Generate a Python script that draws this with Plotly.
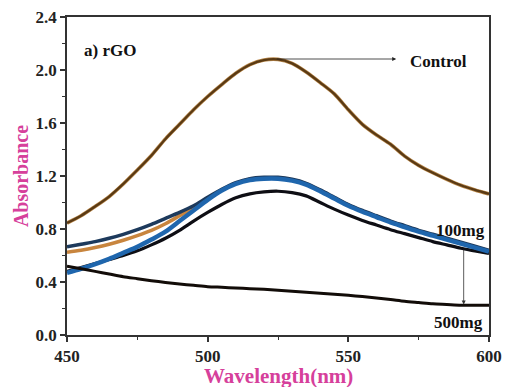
import plotly.graph_objects as go

wl = [450, 455, 460, 465, 470, 475, 480, 485, 490, 495, 500, 505, 510, 515, 520,
      525, 530, 535, 540, 545, 550, 555, 560, 565, 570, 575, 580, 585, 590, 595, 600]

control = [0.845, 0.90, 0.97, 1.045, 1.14, 1.245, 1.355, 1.48, 1.59, 1.70, 1.80, 1.89, 1.975, 2.04, 2.075,
           2.08, 2.05, 1.985, 1.905, 1.82, 1.70, 1.59, 1.51, 1.44, 1.35, 1.28, 1.225, 1.175, 1.13, 1.095, 1.065]

orange_s = [0.625, 0.64, 0.66, 0.685, 0.715, 0.75, 0.79, 0.84, 0.90, 0.96, 1.03, 1.095, 1.145, 1.175, 1.185,
            1.185, 1.17, 1.14, 1.09, 1.035, 0.98, 0.935, 0.895, 0.855, 0.82, 0.785, 0.755, 0.725, 0.695, 0.665, 0.635]

navy_s = [0.665, 0.685, 0.705, 0.73, 0.76, 0.795, 0.835, 0.88, 0.925, 0.975, 1.04, 1.10, 1.15, 1.18, 1.19,
          1.19, 1.175, 1.145, 1.095, 1.04, 0.985, 0.94, 0.90, 0.86, 0.825, 0.79, 0.76, 0.73, 0.70, 0.67, 0.64]

black_s = [0.48, 0.51, 0.54, 0.57, 0.60, 0.635, 0.68, 0.73, 0.79, 0.86, 0.925, 0.985, 1.035, 1.065, 1.08,
           1.085, 1.075, 1.05, 1.00, 0.95, 0.905, 0.865, 0.83, 0.795, 0.765, 0.735, 0.705, 0.68, 0.655, 0.635, 0.615]

blue_s = [0.47, 0.50, 0.535, 0.575, 0.62, 0.665, 0.72, 0.78, 0.86, 0.94, 1.02, 1.09, 1.14, 1.17, 1.18,
          1.18, 1.165, 1.135, 1.085, 1.03, 0.975, 0.93, 0.89, 0.85, 0.815, 0.78, 0.75, 0.72, 0.69, 0.66, 0.63]

mg500 = [0.52, 0.50, 0.48, 0.46, 0.44, 0.425, 0.41, 0.397, 0.385, 0.375, 0.365, 0.36, 0.355, 0.35, 0.345,
         0.338, 0.33, 0.322, 0.315, 0.308, 0.30, 0.29, 0.28, 0.268, 0.255, 0.245, 0.235, 0.23, 0.225, 0.225, 0.225]

x_ticks = [450, 500, 550, 600]
y_ticks = [0.0, 0.4, 0.8, 1.2, 1.6, 2.0, 2.4]

fig = go.Figure()

def add(y, color, width):
    fig.add_trace(go.Scatter(x=wl, y=y, mode="lines", line=dict(color=color, width=width, shape="spline", smoothing=0.8),
                             showlegend=False, hoverinfo="skip"))

add(control, "#b8874a", 3.6)
add(control, "#5a3a14", 2.3)
add(orange_s, "#c8853e", 3.5)
add(navy_s, "#1d3a5c", 3.5)
add(black_s, "#0e0e14", 3.2)
add(blue_s, "#1f66ad", 4.5)
add(mg500, "#120c08", 3.0)

font_fam = "Liberation Serif"

fig.add_annotation(x=567, y=2.083, ax=524, ay=2.083, xref="x", yref="y", axref="x", ayref="y",
                   showarrow=True, arrowhead=2, arrowsize=1, arrowwidth=0.8, arrowcolor="#222", text="")
fig.add_annotation(x=582, y=2.065, xref="x", yref="y", text="<b>Control</b>", showarrow=False,
                   font=dict(family=font_fam, size=17, color="#111"))
fig.add_annotation(x=591, y=0.23, ax=591, ay=0.655, xref="x", yref="y", axref="x", ayref="y",
                   showarrow=True, arrowhead=2, arrowsize=1, arrowwidth=0.8, arrowcolor="#333", text="")
fig.add_annotation(x=590, y=0.79, xref="x", yref="y", text="<b>100mg</b>", showarrow=False,
                   font=dict(family=font_fam, size=17, color="#111"))
fig.add_annotation(x=589, y=0.095, xref="x", yref="y", text="<b>500mg</b>", showarrow=False,
                   font=dict(family=font_fam, size=17, color="#111"))
fig.add_annotation(x=0.035, y=0.93, xref="paper", yref="paper", xanchor="left", text="<b>a) rGO</b>",
                   showarrow=False, font=dict(family=font_fam, size=17, color="#111"))
# x-axis title placed explicitly below the tick labels
fig.add_annotation(x=0.5, y=-0.128, xref="paper", yref="paper", xanchor="center", yanchor="middle",
                   text="<b>Wavelength(nm)</b>", showarrow=False,
                   font=dict(family=font_fam, size=21, color="#d6409b"))

axis_common = dict(showline=True, linecolor="#333", linewidth=1.5, mirror=True, ticks="outside",
                   ticklen=5, tickwidth=1.5, tickcolor="#333", showgrid=False, zeroline=False,
                   automargin=False,
                   tickfont=dict(family=font_fam, size=17, color="#222"))

fig.update_xaxes(range=[450, 600], tickvals=x_ticks, ticktext=[f"<b>{v}</b>" for v in x_ticks],
                 minor=dict(ticks="outside", ticklen=3, tickwidth=1.2, tickcolor="#333", dtick=25, tick0=450),
                 **axis_common)
fig.update_yaxes(range=[0, 2.4], tickvals=y_ticks, ticktext=[f"<b>{v:.1f}</b>" for v in y_ticks],
                 minor=dict(ticks="outside", ticklen=3, tickwidth=1.2, tickcolor="#333", dtick=0.2, tick0=0),
                 title=dict(text="<b>Absorbance</b>", font=dict(family=font_fam, size=20, color="#d6409b"),
                            standoff=2),
                 **axis_common)

fig.update_layout(width=505, height=387, margin=dict(l=67, r=16, t=17, b=52, autoexpand=False),
                  plot_bgcolor="white", paper_bgcolor="white")

fig.write_html("out.html")
